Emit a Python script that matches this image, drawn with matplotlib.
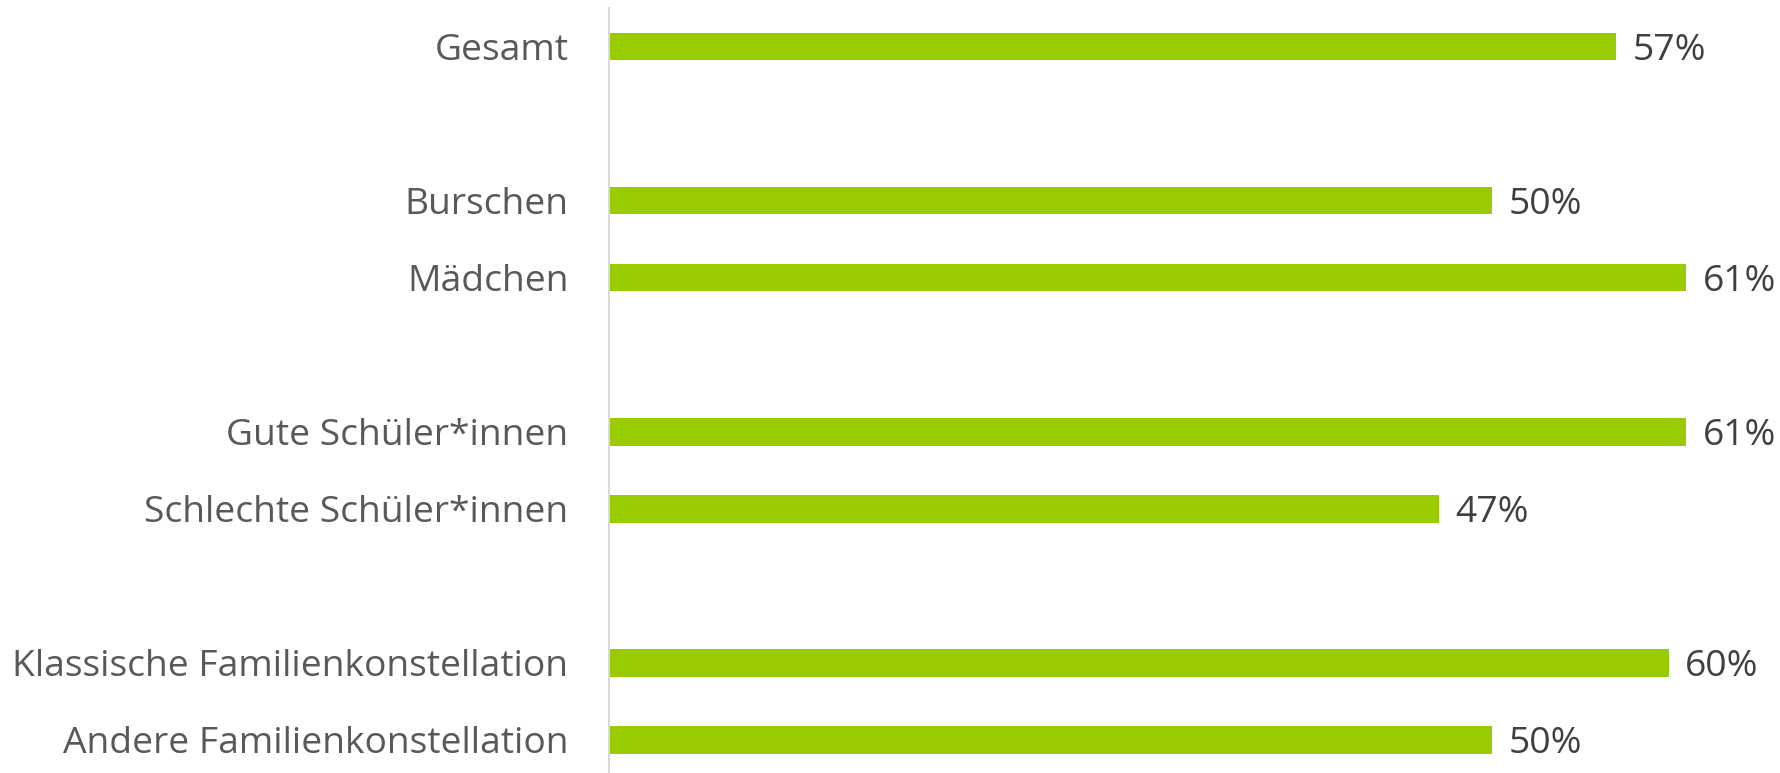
import numpy as np
import matplotlib
matplotlib.use("Agg")
import matplotlib.pyplot as plt

categories = ["Gesamt",
              "Burschen", "Mädchen",
              "Gute Schüler*innen", "Schlechte Schüler*innen",
              "Klassische Familienkonstellation", "Andere Familienkonstellation"]
values = [57, 50, 61, 61, 47, 60, 50]
groups = [0, 1, 1, 2, 2, 3, 3]

plt.rcParams['font.family'] = ['Open Sans', 'DejaVu Sans']

# one empty slot between groups
pos = np.arange(len(categories)) + np.array(groups)

fig = plt.figure(figsize=(17.8, 7.73), dpi=100)
ax = fig.add_axes([0.342, 0.0, 0.658, 0.9897])

ax.barh(pos, values, height=0.36, color='#99CC00')
for p, v in zip(pos, values):
    ax.annotate(f"{v}%", (v, p), xytext=(12, 0), textcoords='offset points',
                va='center_baseline', ha='left', fontsize=26.8, color='#404040')

ax.set_ylim(9.43, -0.5)
ax.set_xlim(0, 66.3)
ax.set_yticks(pos)
ax.set_yticklabels(categories, fontsize=26.8, color='#595959')
ax.tick_params(axis='y', length=0, pad=29)
ax.set_xticks([])
for s in ['top', 'right', 'bottom']:
    ax.spines[s].set_visible(False)
ax.spines['left'].set_color('#D9D9D9')
ax.spines['left'].set_linewidth(1.5)

plt.savefig("out.png", dpi=100)
